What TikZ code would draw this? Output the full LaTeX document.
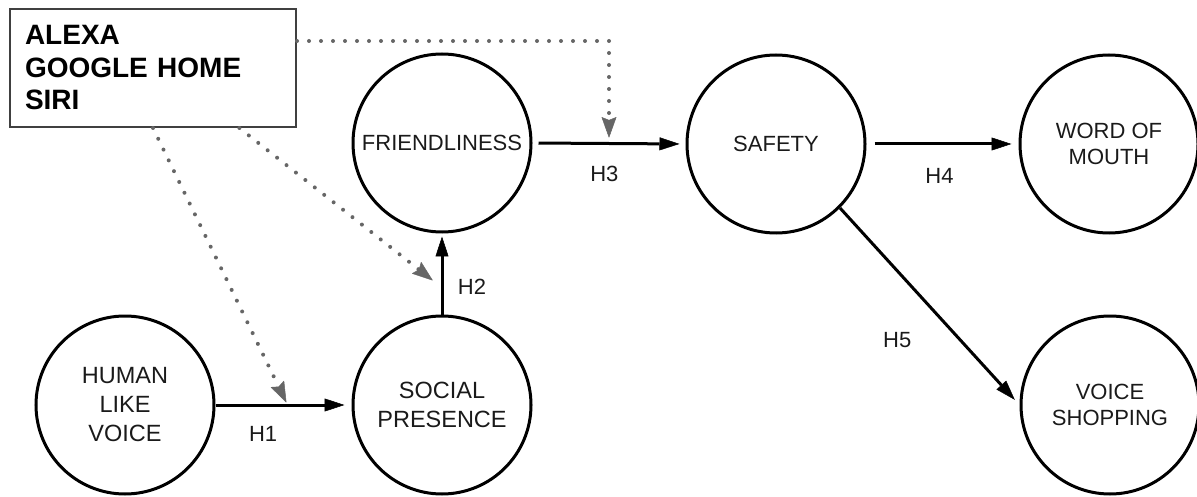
\documentclass[tikz,border=0pt]{standalone}
\usepackage{fontspec}
\setmainfont{Liberation Sans}
\usetikzlibrary{arrows.meta,calc}
\definecolor{txt}{HTML}{1A1A1A}
\definecolor{dotc}{HTML}{666666}
\definecolor{boxc}{HTML}{404040}
\begin{document}
\begin{tikzpicture}[x=1pt,y=-1pt,
  circ/.style={circle, draw=black, line width=3pt, minimum size=178pt, inner sep=0pt,
    align=center, text=txt, font=\fontsize{22}{26.4}\selectfont},
  circL/.style={circ, font=\fontsize{23.5}{29}\selectfont},
  hyp/.style={draw=black, line width=3pt, -{Triangle[length=20pt,width=13pt,line width=0.5pt]}},
  modline/.style={draw=dotc, line width=4pt, line cap=round, dash pattern=on 0pt off 12pt,
    -{Stealth[length=21pt,width=15pt,inset=3pt,line width=0.5pt,round]}},
  lab/.style={text=txt, font=\fontsize{22}{26}\selectfont, inner sep=0pt},
  boxnode/.style={draw=boxc, line width=2pt, text width=256pt, inner xsep=15pt,
    minimum height=118pt, align=left, font=\fontsize{28}{32.5}\selectfont\bfseries, text=black}
]
\useasboundingbox (0,0) rectangle (1197,497);

\node[boxnode] (box) at (153,68) {ALEXA\\GOOGLE HOME\\SIRI};

\node[circL] (HLV) at (125,405) {HUMAN\\LIKE\\VOICE};
\node[circL] (SP) at (442,405) {SOCIAL\\PRESENCE};
\node[circ] (F) at (442,143) {FRIENDLINESS};
\node[circ] (S) at (776,144) {SAFETY};
\node[circ] (WOM) at (1109,144) {WORD OF\\MOUTH};
\node[circ] (VS) at (1110,405) {VOICE\\SHOPPING};

\draw[hyp, shorten >=7pt] (HLV.east) -- node[lab, pos=.35, yshift=-29pt]{H1} (SP.west);
\draw[hyp, shorten >=3pt] (SP.north) -- node[lab, pos=.34, xshift=30pt]{H2} (F.south);
\draw[hyp, shorten <=6pt, shorten >=6pt] (F.east) -- node[lab, pos=.47, yshift=-30pt]{H3} (S.west);
\draw[hyp, shorten <=8pt, shorten >=7pt] (S.east) -- node[lab, pos=.48, yshift=-32pt]{H4} (WOM.west);
\draw[hyp, shorten >=7pt] (S.south east) -- node[lab, pos=.67, xshift=-63pt]{H5} (VS.west);

\draw[modline, shorten >=6pt] ($(box.north east)+(0,33)$) -| ($(F.east)!.5!(S.west)$);
\draw[modline, shorten >=3pt] (box.south) -- ($(HLV.east)!.53!(SP.west)$);
\draw[modline, shorten >=12pt] ($(box.south west)!.8!(box.south east)$) -- ($(SP.north)!.33!(F.south)$);
\end{tikzpicture}
\end{document}
